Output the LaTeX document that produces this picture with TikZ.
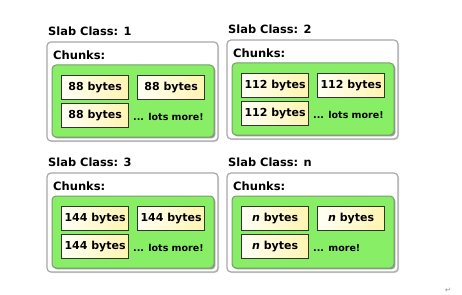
\documentclass[tikz,border=0pt]{standalone}
\usepackage{fontspec}
\setmainfont{DejaVu Sans}
\newfontfamily\arrowfont{DejaVu Sans}
\usetikzlibrary{shadows}
\definecolor{slabgreen}{HTML}{88EE66}
\definecolor{slabedge}{HTML}{7A9A70}
\definecolor{chunklight}{HTML}{FFFFF6}
\definecolor{chunkwarm}{HTML}{FFF4B0}
\definecolor{outeredge}{HTML}{A8A8A8}
\tikzset{
  x=1pt, y=-1pt,
  title/.style={anchor=west, inner sep=0, font=\fontsize{11.4}{13}\selectfont\bfseries},
  label/.style={anchor=west, inner sep=0, font=\fontsize{11.5}{13}\selectfont\bfseries},
  more/.style={anchor=west, inner sep=0, font=\fontsize{9.5}{11}\selectfont\bfseries},
  outerbox/.style={draw=outeredge, line width=1.2pt, fill=white, rounded corners=4pt,
    drop shadow={shadow xshift=1pt, shadow yshift=-1pt, fill=black!25, opacity=0.6}},
  greenbox/.style={draw=slabedge, line width=1pt, fill=slabgreen, rounded corners=4pt,
    drop shadow={shadow xshift=1.4pt, shadow yshift=-1.4pt, fill=black!55, opacity=0.7}},
  chunk/.style={draw=black!80, line width=1.2pt, left color=chunklight, right color=chunkwarm,
    inner sep=0, font=\fontsize{11}{13}\selectfont\bfseries},
}
\newcommand{\slabpanel}[6]{%
  % #1 name, #2 x, #3 y (top of outer box), #4 title, #5 chunk text, #6 trailing note
  \node[title] (#1t) at (#2+1, #3-11) {#4};
  \path[outerbox] (#2,#3) rectangle (#2+171,#3+99);
  \node[label] (#1c) at (#2+6, #3+13) {Chunks:};
  \path[greenbox] (#2+5,#3+23) rectangle (#2+167,#3+95);
  \node[chunk, minimum width=67pt, minimum height=24pt, anchor=north west] (#1a) at (#2+14,#3+33) {#5};
  \node[chunk, minimum width=67pt, minimum height=24pt, anchor=north west] (#1b) at (#2+90,#3+33) {#5};
  \node[chunk, minimum width=67pt, minimum height=24pt, anchor=north west] (#1d) at (#2+14,#3+61) {#5};
  \node[more] (#1m) at (#2+86,#3+75) {#6};
}
\begin{document}
\begin{tikzpicture}
\useasboundingbox (0,0) rectangle (462,294);
\slabpanel{p1}{47}{42}{Slab Class: 1}{88 bytes}{... lots more!}
\slabpanel{p2}{227}{40}{Slab Class: 2}{112 bytes}{... lots more!}
\slabpanel{p3}{47}{173}{Slab Class: 3}{144 bytes}{... lots more!}
\slabpanel{p4}{227}{173}{Slab Class: n}{\textit{n} bytes}{... more!}
\node[inner sep=0, text=black!45, font=\arrowfont\fontsize{7}{8}\selectfont] (mark) at (448,290) {↵};
\end{tikzpicture}
\end{document}
